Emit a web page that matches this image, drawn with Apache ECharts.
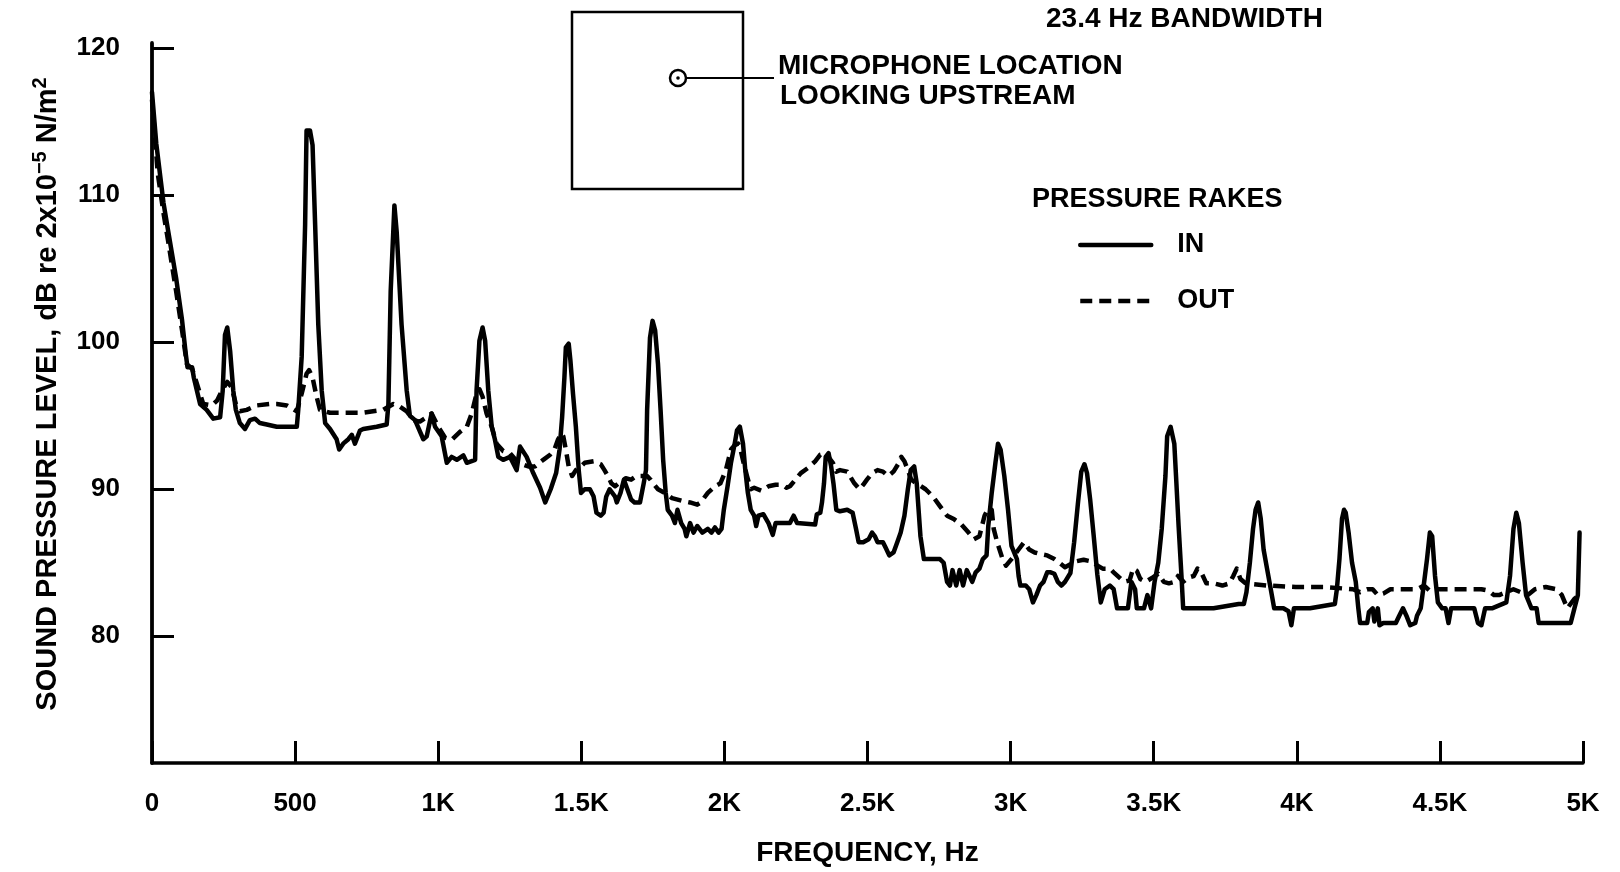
<!DOCTYPE html>
<html>
<head>
<meta charset="utf-8">
<script src="https://cdn.jsdelivr.net/npm/echarts@6/dist/echarts.min.js"></script>
<style>
html,body{margin:0;padding:0;background:#fff;}
#chart{width:1620px;height:872px;}
</style>
</head>
<body>
<div id="chart"></div>
<script>
// ---- data ----
const inFreq = [0,15,40,57,84,105,118,124,140,146,168,191,214,238,247,255,263,273,284,293,307,325,342,360,377,401,436,471,506,511,523,535,540,552,561,570,581,593,605,622,645,654,668,686,698,709,727,738,785,820,826,834,847,855,872,890,901,919,948,960,977,989,1012,1030,1047,1065,1088,1100,1129,1134,1144,1155,1164,1175,1187,1198,1210,1227,1251,1274,1286,1309,1332,1356,1374,1393,1412,1424,1433,1441,1446,1456,1462,1471,1481,1491,1499,1512,1530,1543,1553,1568,1578,1587,1599,1618,1624,1637,1649,1661,1674,1686,1705,1718,1726,1730,1740,1749,1758,1768,1777,1786,1795,1802,1817,1827,1836,1849,1861,1867,1880,1892,1905,1923,1942,1955,1967,1980,1990,1998,2011,2023,2036,2044,2054,2065,2073,2082,2092,2104,2111,2119,2136,2154,2169,2179,2198,2229,2242,2254,2317,2323,2335,2341,2348,2354,2364,2373,2381,2391,2404,2429,2448,2460,2469,2485,2504,2516,2526,2535,2554,2564,2576,2591,2604,2616,2629,2641,2651,2663,2672,2685,2697,2716,2753,2766,2778,2788,2797,2810,2822,2834,2847,2866,2878,2891,2903,2916,2922,2934,2947,2956,2965,2978,2991,3003,3022,3028,3034,3053,3065,3078,3090,3103,3115,3128,3140,3153,3165,3178,3190,3209,3222,3235,3247,3258,3267,3278,3290,3303,3315,3329,3347,3360,3372,3410,3422,3435,3441,3466,3478,3491,3503,3516,3528,3541,3547,3559,3572,3578,3587,3597,3603,3709,3797,3815,3824,3836,3847,3856,3865,3874,3884,3896,3909,3921,3953,3971,3981,3990,4046,4133,4140,4149,4158,4165,4171,4181,4193,4206,4215,4221,4246,4252,4265,4271,4283,4289,4302,4346,4358,4371,4383,4396,4414,4420,4433,4445,4455,4465,4473,4483,4493,4508,4520,4530,4539,4595,4620,4633,4645,4658,4682,4732,4745,4757,4767,4776,4789,4801,4820,4838,4845,4957,4970,4982,4988];
const inLevel = [117,113.5,109.5,107.5,104.4,101.5,99.2,98.3,98.3,97.6,95.8,95.4,94.8,94.9,96.7,100.5,101.0,99.4,96.7,95.4,94.5,94.1,94.7,94.8,94.5,94.4,94.25,94.25,94.25,95.4,99.0,108.0,114.4,114.4,113.4,108.0,101.2,96.7,94.5,94.1,93.4,92.7,93.1,93.4,93.7,93.1,94.0,94.1,94.25,94.4,95.8,103.5,109.3,107.5,101.2,96.7,95.0,94.7,93.4,93.6,95.15,94.25,93.6,91.8,92.2,92.0,92.3,91.8,92.0,96.7,100.1,101.0,100.1,96.7,94.25,93.4,92.2,92.0,92.2,91.3,92.9,92.2,91.1,90.1,89.1,90.0,91.1,92.7,94.9,97.6,99.65,99.9,98.75,96.5,94.25,91.3,89.75,90.0,90.0,89.5,88.4,88.2,88.4,89.5,90.0,89.5,89.1,89.75,90.65,90.0,89.3,89.1,89.1,90.4,91.3,95.4,100.3,101.45,100.8,98.5,95.4,92.0,89.75,88.6,88.2,87.7,88.6,87.7,87.3,86.8,87.7,87.05,87.5,87.05,87.3,87.05,87.4,87.05,87.3,88.6,90.2,91.8,93.1,94.0,94.25,93.1,91.3,89.75,88.6,88.2,87.5,88.2,88.3,87.7,86.9,87.7,87.7,87.7,88.2,87.7,87.6,88.3,88.4,89.1,90.4,92.2,92.45,91.55,90.4,88.6,88.5,88.6,88.4,87.3,86.4,86.4,86.6,87.05,86.8,86.4,86.4,86.0,85.5,85.7,86.4,87.05,88.2,90.0,91.3,91.55,90.4,86.8,85.25,85.25,85.25,85.0,83.7,83.45,84.5,83.45,84.5,83.45,84.5,83.7,84.35,84.6,85.25,85.5,87.5,89.75,91.8,93.1,92.7,90.9,88.6,86.15,85.25,84.1,83.45,83.45,83.2,82.3,82.8,83.45,83.7,84.35,84.35,84.25,83.7,83.45,83.7,84.3,86.4,89.0,91.2,91.7,91.1,89.3,86.9,84.2,82.3,83.2,83.45,83.2,81.9,81.9,83.7,83.2,81.9,81.9,82.8,81.9,83.7,85.0,87.3,90.9,93.6,94.25,93.1,90.9,87.5,84.1,81.9,81.9,82.2,82.2,83.0,85.0,87.3,88.6,89.1,88.0,85.9,84.6,83.2,81.9,81.9,81.7,80.75,81.9,81.9,82.2,83.2,85.25,88.0,88.6,88.4,87.05,85.0,83.7,81.9,80.9,80.9,81.65,81.9,81.0,81.9,80.75,80.9,80.9,81.4,81.9,81.4,80.75,80.9,81.4,81.9,83.7,85.25,87.05,86.8,84.1,82.3,81.9,81.9,80.9,81.9,81.9,81.9,80.9,80.75,81.9,81.9,82.3,84.1,87.3,88.4,87.7,85.0,82.8,81.9,81.9,80.9,80.9,81.9,82.8,87.05];

const outFreq = [0,20,40,57,84,105,122,140,155,179,209,228,244,263,278,293,307,331,366,412,436,471,506,523,540,549,561,575,587,622,680,738,808,843,867,890,913,936,960,977,1000,1024,1047,1076,1100,1117,1134,1144,1155,1169,1187,1204,1227,1251,1280,1315,1338,1367,1391,1406,1418,1431,1437,1446,1456,1468,1481,1499,1512,1543,1568,1581,1593,1605,1618,1630,1643,1655,1674,1693,1730,1742,1755,1768,1792,1817,1855,1880,1905,1917,1942,1967,1986,2005,2023,2036,2048,2054,2067,2079,2092,2104,2129,2154,2179,2204,2217,2229,2248,2267,2292,2317,2335,2354,2367,2379,2391,2404,2429,2454,2472,2485,2498,2516,2535,2554,2572,2591,2610,2618,2629,2641,2653,2679,2703,2729,2753,2778,2803,2828,2853,2872,2891,2909,2922,2934,2941,2953,2972,2984,3003,3028,3047,3065,3084,3103,3128,3153,3171,3190,3209,3230,3255,3280,3304,3322,3347,3360,3385,3397,3416,3428,3441,3453,3472,3497,3516,3535,3553,3572,3585,3603,3622,3640,3653,3666,3684,3709,3740,3765,3778,3790,3803,3821,3896,3996,4096,4196,4221,4246,4265,4283,4302,4327,4420,4445,4464,4483,4545,4645,4670,4689,4707,4732,4757,4782,4807,4832,4870,4907,4926,4945,4970,4988];
const outLevel = [116.5,111.5,108.8,106.8,103.5,100.8,98.5,98.2,97.3,95.8,95.7,96.05,96.7,97.3,96.95,95.8,95.3,95.4,95.7,95.8,95.8,95.7,95.3,96.5,97.85,98.1,97.6,96.3,95.4,95.2,95.2,95.2,95.4,95.8,95.6,95.3,94.7,94.6,94.9,95.15,94.25,93.5,93.35,93.9,94.25,95.15,96.5,96.8,96.3,95.15,94.25,93.1,92.6,92.45,91.8,91.55,91.55,92.0,92.35,92.7,93.35,93.8,93.6,92.7,91.55,90.9,91.3,91.55,91.8,91.9,91.7,91.3,90.9,90.4,90.2,90.4,90.55,90.75,90.65,90.9,90.9,90.65,90.3,90.0,89.75,89.4,89.2,89.1,88.95,89.1,89.75,90.2,90.4,91.3,92.7,93.0,93.1,92.9,91.8,90.9,90.0,90.1,89.9,90.2,90.3,90.3,90.1,90.2,90.65,91.1,91.45,91.9,92.35,92.45,92.1,91.8,91.2,91.3,91.2,90.4,90.0,90.3,90.65,91.1,91.3,91.2,90.9,91.2,91.8,92.2,91.9,91.3,90.65,90.3,90.0,89.5,88.85,88.2,87.95,87.6,87.05,86.6,86.8,88.2,88.7,88.6,87.3,86.4,85.25,84.8,85.25,85.9,86.4,85.9,85.7,85.6,85.5,85.25,85.0,84.7,84.9,85.1,85.2,85.1,84.8,84.6,84.6,84.35,83.9,83.7,83.8,84.6,84.45,83.9,83.7,84.0,84.25,83.7,83.6,83.7,84.1,83.7,84.0,84.1,84.6,84.35,83.6,83.6,83.45,83.6,84.1,84.6,83.9,83.6,83.45,83.35,83.35,83.2,83.0,83.2,83.2,82.8,82.9,83.2,83.2,83.45,83.1,83.2,83.2,83.2,83.1,82.8,82.8,83.0,83.2,83.0,82.8,83.2,83.35,83.2,82.8,81.9,82.55,82.8];

const seriesNames = ['IN', 'OUT'];
const xTickValues = [0,500,1000,1500,2000,2500,3000,3500,4000,4500,5000];
const xTickLabels = ['0','500','1K','1.5K','2K','2.5K','3K','3.5K','4K','4.5K','5K'];
const yTickValues = [80,90,100,110,120];

const FONT = 'Liberation Sans';
const chart = echarts.init(document.getElementById('chart'), null, {renderer:'canvas'});

const zip = (f, v) => f.map((x, i) => [x, v[i]]);

const option = {
  animation: false,
  backgroundColor: '#ffffff',
  textStyle: {fontFamily: FONT, color: '#000'},
  grid: {left: 152, right: 37, top: 43, bottom: 103, containLabel: false},
  legend: {
    orient: 'vertical',
    left: 1073,
    top: 219,
    itemWidth: 71,
    itemHeight: 14,
    itemGap: 14,
    selectedMode: false,
    data: seriesNames,
    itemStyle: {opacity: 0},
    lineStyle: {width: 4.5, color: '#000'},
    textStyle: {fontFamily: FONT, fontSize: 27, fontWeight: 'bold', color: '#000',
                lineHeight: 28, padding: [0, 0, 14, 21]}
  },
  xAxis: {
    type: 'value', min: 0, max: 5000, interval: 500,
    axisLine: {onZero: false, lineStyle: {color: '#000', width: 3.5}},
    axisTick: {inside: true, length: 22, lineStyle: {color: '#000', width: 3}},
    axisLabel: {margin: 28, color: '#000', fontFamily: FONT, fontSize: 26, fontWeight: 'bold',
                formatter: v => { const i = xTickValues.indexOf(v); return i >= 0 ? xTickLabels[i] : ''; }},
    splitLine: {show: false},
    name: 'FREQUENCY, Hz', nameLocation: 'middle', nameGap: 76,
    nameTextStyle: {fontFamily: FONT, fontSize: 28, fontWeight: 'bold', color: '#000'}
  },
  yAxis: {
    type: 'value', min: 71.38, max: 120.35,
    axisLine: {show: true, lineStyle: {color: '#000', width: 3.8}},
    axisTick: {show: true, inside: true, length: 22, customValues: yTickValues,
               lineStyle: {color: '#000', width: 3}},
    axisLabel: {show: true, margin: 32, customValues: yTickValues, color: '#000',
                fontFamily: FONT, fontSize: 26, fontWeight: 'bold'},
    splitLine: {show: false},
    name: '{b|SOUND PRESSURE LEVEL, dB re 2x10}{s|\u22125}{a| N/m}{s|2}',
    nameLocation: 'middle', nameGap: 90, nameRotate: 90,
    nameTextStyle: {
      rich: {
        b: {fontFamily: FONT, fontSize: 29, fontWeight: 'bold', color: '#000', lineHeight: 32, verticalAlign: 'bottom', padding: [0, 0, 0, 18]},
        a: {fontFamily: FONT, fontSize: 29, fontWeight: 'bold', color: '#000', lineHeight: 32, verticalAlign: 'bottom'},
        s: {fontFamily: FONT, fontSize: 20, fontWeight: 'bold', color: '#000', lineHeight: 20, verticalAlign: 'top'}
      }
    }
  },
  series: [
    {
      name: seriesNames[0], type: 'line', data: zip(inFreq, inLevel),
      symbol: 'none', showSymbol: false, clip: false, z: 3,
      lineStyle: {color: '#000', width: 4.5, type: 'solid', join: 'round', cap: 'round'},
      itemStyle: {color: '#000'}
    },
    {
      name: seriesNames[1], type: 'line', data: zip(outFreq, outLevel),
      symbol: 'none', showSymbol: false, clip: false, z: 2,
      lineStyle: {color: '#000', width: 4.5, type: [12, 7], join: 'round', cap: 'butt'},
      itemStyle: {color: '#000'}
    }
  ],
  graphic: [
    {type: 'rect', shape: {x: 572, y: 12, width: 171, height: 177},
     style: {fill: 'none', stroke: '#000', lineWidth: 2.5}},
    {type: 'circle', shape: {cx: 678, cy: 78, r: 8},
     style: {fill: 'none', stroke: '#000', lineWidth: 2.5}},
    {type: 'circle', shape: {cx: 678, cy: 78, r: 1.8}, style: {fill: '#000'}},
    {type: 'line', shape: {x1: 686, y1: 78, x2: 774, y2: 78},
     style: {stroke: '#000', lineWidth: 2}},
    {type: 'text', x: 1046, y: 19,
     style: {text: '23.4 Hz BANDWIDTH', fontFamily: FONT, fontSize: 28, fontWeight: 'bold', fill: '#000', verticalAlign: 'middle'}},
    {type: 'text', x: 778, y: 66,
     style: {text: 'MICROPHONE LOCATION', fontFamily: FONT, fontSize: 28, fontWeight: 'bold', fill: '#000', verticalAlign: 'middle'}},
    {type: 'text', x: 780, y: 96,
     style: {text: 'LOOKING UPSTREAM', fontFamily: FONT, fontSize: 28, fontWeight: 'bold', fill: '#000', verticalAlign: 'middle'}},
    {type: 'text', x: 1032, y: 200,
     style: {text: 'PRESSURE RAKES', fontFamily: FONT, fontSize: 27, fontWeight: 'bold', fill: '#000', verticalAlign: 'middle'}}
  ]
};
chart.setOption(option);
</script>
</body>
</html>
